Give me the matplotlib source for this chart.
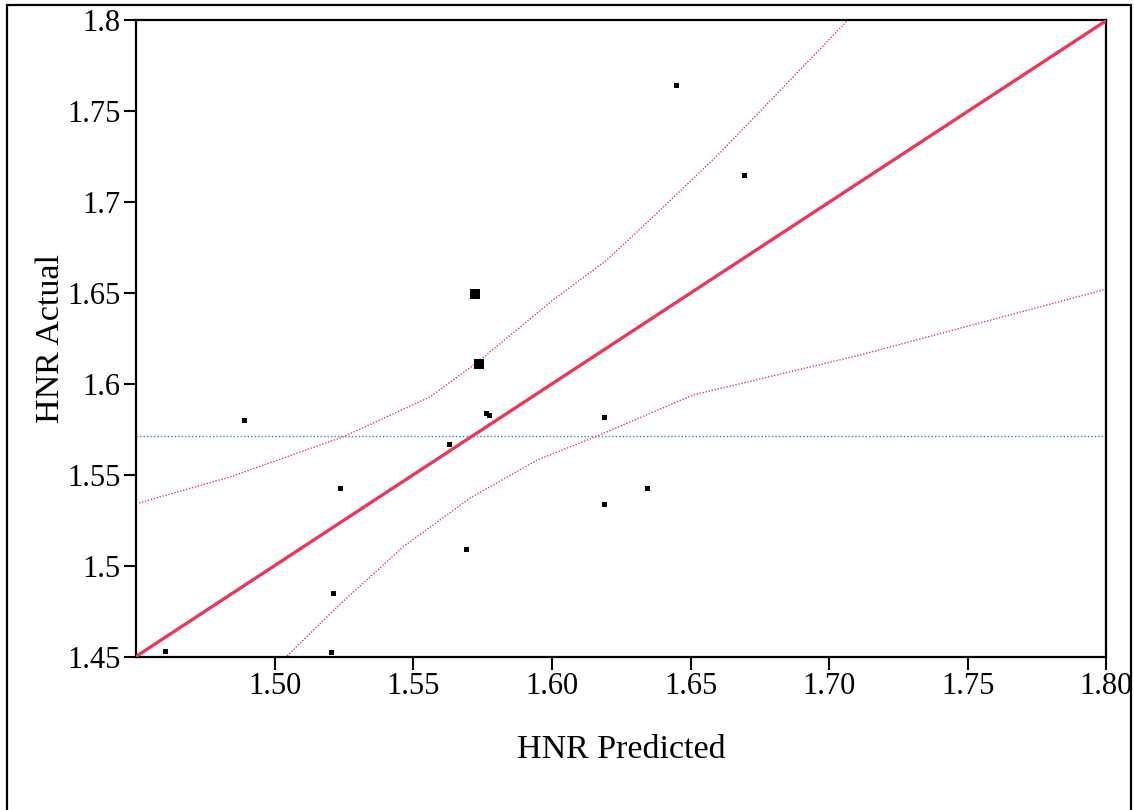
import matplotlib
matplotlib.use("Agg")
import matplotlib.pyplot as plt
from matplotlib.patches import Rectangle

# ------------------------------------
# Data
# ------------------------------------
pred = [1.4605, 1.4889, 1.5237, 1.5210, 1.5203, 1.5630, 1.5690, 1.5724,
        1.5736, 1.5762, 1.5775, 1.6188, 1.6188, 1.6343, 1.6447, 1.6693]
actual = [1.4530, 1.5801, 1.5426, 1.4851, 1.4526, 1.5671, 1.5093, 1.6493,
          1.6111, 1.5838, 1.5829, 1.5819, 1.5339, 1.5427, 1.7645, 1.7150]
big = [False] * 7 + [True, True] + [False] * 7

fit_x = [1.45, 1.80]
fit_y = [1.45, 1.80]
mean_actual = 1.5713

upper_x = [1.4511, 1.4839, 1.5246, 1.5560, 1.5733, 1.6004, 1.6198, 1.6364, 1.6606, 1.7064, 1.7120]
upper_y = [1.5345, 1.5488, 1.5708, 1.5928, 1.6121, 1.6462, 1.6682, 1.6918, 1.7271, 1.7997, 1.8080]
lower_x = [1.5020, 1.5045, 1.5225, 1.5463, 1.5705, 1.5947, 1.6163, 1.6509, 1.7111, 1.8000]
lower_y = [1.4470, 1.4503, 1.4772, 1.5103, 1.5372, 1.5581, 1.5713, 1.5939, 1.6159, 1.6522]

x_ticks = [1.50, 1.55, 1.60, 1.65, 1.70, 1.75, 1.80]
x_labels = ["1.50", "1.55", "1.60", "1.65", "1.70", "1.75", "1.80"]
y_ticks = [1.45, 1.5, 1.55, 1.6, 1.65, 1.7, 1.75, 1.8]
y_labels = ["1.45", "1.5", "1.55", "1.6", "1.65", "1.7", "1.75", "1.8"]

# ------------------------------------
# Plot
# ------------------------------------
plt.rcParams['font.family'] = ['Liberation Serif', 'DejaVu Serif']

fig = plt.figure(figsize=(11.34, 8.10), dpi=100)
ax = fig.add_axes([0.1199, 0.1895, 0.8558, 0.7852])

red = '#e8395a'
ax.plot(fit_x, fit_y, color=red, lw=2.4, zorder=3)
ax.plot(upper_x, upper_y, color=red, lw=1.0, ls=(0, (1, 1.2)), zorder=2)
ax.plot(lower_x, lower_y, color=red, lw=1.0, ls=(0, (1, 1.2)), zorder=2)
ax.axhline(mean_actual, color='#3a7ae8', lw=1.0, ls=(0, (1, 1.5)), zorder=2)

small_x = [p for p, b in zip(pred, big) if not b]
small_y = [a for a, b in zip(actual, big) if not b]
big_x = [p for p, b in zip(pred, big) if b]
big_y = [a for a, b in zip(actual, big) if b]
ax.plot(small_x, small_y, 's', color='black', ms=3.6, mew=0, zorder=4)
ax.plot(big_x, big_y, 's', color='black', ms=6.5, mew=0, zorder=4)

ax.set_xlim(1.45, 1.80)
ax.set_ylim(1.45, 1.80)
ax.set_xticks(x_ticks)
ax.set_xticklabels(x_labels)
ax.set_yticks(y_ticks)
ax.set_yticklabels(y_labels)
ax.tick_params(direction='out', length=9, width=1.5, labelsize=22, pad=2, colors='black')

for s in ax.spines.values():
    s.set_linewidth(1.6)

ax.set_xlabel("HNR Predicted", fontsize=24.5, labelpad=24)
ax.set_ylabel("HNR Actual", fontsize=24.5, labelpad=1)

# outer frame around the whole figure
fig.patches.append(Rectangle((7 / 1134, -0.05), 1124 / 1134, 1.05 - 5 / 810,
                             transform=fig.transFigure, fill=False,
                             edgecolor='black', lw=1.6))

fig.savefig("out.png", dpi=100)
